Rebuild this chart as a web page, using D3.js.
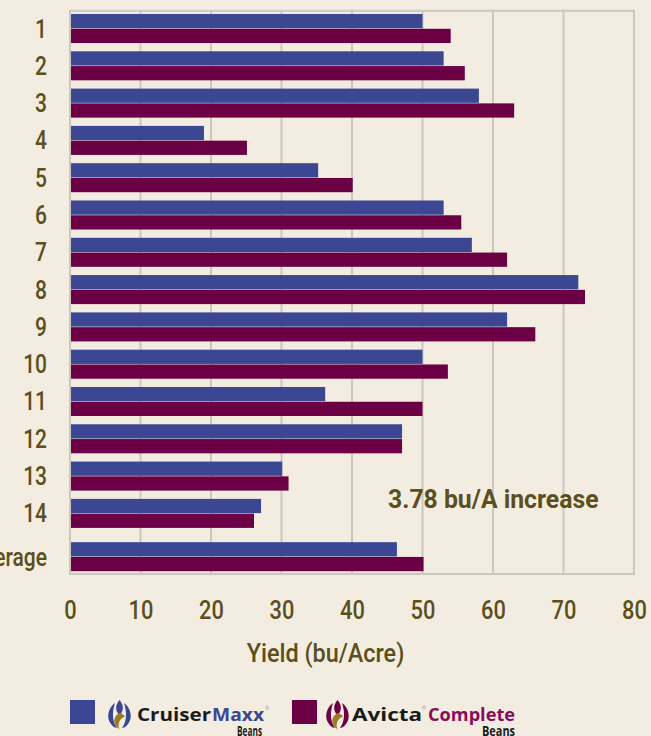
<!DOCTYPE html>
<html>
<head>
<meta charset="utf-8">
<script src="https://cdn.jsdelivr.net/npm/d3@7"></script>
<style>
  html, body { margin: 0; padding: 0; background: #f3ede1; }
  svg { display: block; }
  .lbl { font-family: Roboto, "Liberation Sans", sans-serif; font-weight: 500; fill: #5b4f1c; }
</style>
</head>
<body>
<script>
// Trial locations, plus the average row at the bottom
const categories = ['1', '2', '3', '4', '5', '6', '7', '8', '9', '10', '11', '12', '13', '14', 'Average'];
const cruiserMaxx = [50, 53, 58, 19, 35.2, 53, 57, 72.1, 62, 50, 36.2, 47.1, 30.1, 27.1, 46.37];
const avictaComplete = [54, 56, 63, 25.1, 40.1, 55.5, 62, 73.05, 66, 53.6, 50, 47.1, 31, 26.1, 50.15];
const xTicks = [0, 10, 20, 30, 40, 50, 60, 70, 80];
const seriesNames = ['CruiserMaxx', 'AvictaComplete'];
const increaseLabel = '3.78 bu/A increase';

const W = 651, H = 736;
const plot = { left: 70, right: 634, top: 10.7, bottom: 574 };
const blue = '#3b4792', purple = '#6b0044', grid = '#cac7c1';
const avgGap = 6;
const narrow = 0.84;   // the original type is a condensed face

const svg = d3.select('body').append('svg')
  .attr('width', W)
  .attr('height', H);

// squeeze text horizontally to mimic a condensed font
function condense(sel, f) {
  sel.each(function () {
    const w = this.getComputedTextLength();
    d3.select(this).attr('textLength', w * f).attr('lengthAdjust', 'spacingAndGlyphs');
  });
}

const x = d3.scaleLinear().domain([0, 80]).range([plot.left, plot.right]);

const y = d3.scaleBand()
  .domain(categories)
  .range([plot.top, 568.5])
  .paddingInner(0.222)
  .paddingOuter(0.0885);

const sub = d3.scaleBand()
  .domain(seriesNames)
  .range([0, y.bandwidth()])
  .paddingInner(0.035);

const rowTop = c => y(c) + (c === 'Average' ? avgGap : 0);

// grid lines + frame
svg.append('g')
  .selectAll('line')
  .data(xTicks)
  .join('line')
  .attr('x1', d => x(d)).attr('x2', d => x(d))
  .attr('y1', plot.top).attr('y2', plot.bottom)
  .attr('stroke', grid)
  .attr('stroke-width', 2);

svg.append('line')
  .attr('x1', plot.left - 1).attr('x2', plot.right + 1)
  .attr('y1', plot.top).attr('y2', plot.top)
  .attr('stroke', grid).attr('stroke-width', 2);
svg.append('line')
  .attr('x1', plot.left - 1).attr('x2', plot.right + 1)
  .attr('y1', plot.bottom).attr('y2', plot.bottom)
  .attr('stroke', grid).attr('stroke-width', 2);

// bars
const rows = categories.map((c, i) => ({ c, vals: [cruiserMaxx[i], avictaComplete[i]] }));
const colors = d3.scaleOrdinal().domain(seriesNames).range([blue, purple]);

const g = svg.append('g')
  .selectAll('g')
  .data(rows)
  .join('g')
  .attr('transform', d => `translate(0,${rowTop(d.c)})`);

g.selectAll('rect')
  .data(d => d.vals.map((v, j) => ({ key: seriesNames[j], v })))
  .join('rect')
  .attr('x', x(0) + 1)
  .attr('y', d => sub(d.key))
  .attr('width', d => x(d.v) - x(0) - 1)
  .attr('height', sub.bandwidth())
  .attr('fill', d => colors(d.key));

// category labels
svg.append('g')
  .selectAll('text')
  .data(categories)
  .join('text')
  .attr('class', 'lbl')
  .attr('x', 47)
  .attr('y', d => rowTop(d) + y.bandwidth() / 2 + 9)
  .attr('text-anchor', 'end')
  .style('font-size', '25px')
  .text(d => d)
  .call(condense, narrow);

// x axis labels
const xAxis = d3.axisBottom(x).tickValues(xTicks).tickSize(0).tickPadding(26.5);
const ax = svg.append('g')
  .attr('transform', `translate(0,${plot.bottom})`)
  .call(xAxis);
ax.select('.domain').remove();
ax.attr('font-family', null).attr('font-size', null);
ax.selectAll('text')
  .attr('class', 'lbl')
  .attr('fill', null)
  .style('font-size', '26px')
  .call(condense, narrow);

svg.append('text')
  .attr('class', 'lbl')
  .attr('x', 325.5)
  .attr('y', 662)
  .attr('text-anchor', 'middle')
  .style('font-size', '26px')
  .text('Yield (bu/Acre)')
  .call(condense, 0.9);

svg.append('text')
  .attr('class', 'lbl')
  .attr('x', 388)
  .attr('y', 508)
  .style('font-size', '25px')
  .style('font-weight', 700)
  .text(increaseLabel)
  .call(condense, 0.99);

// legend
const gold = '#9a7a22';
function logo(gx, gy, petal) {
  const lg = svg.append('g').attr('transform', `translate(${gx},${gy})`);
  lg.append('path')
    .attr('d', 'M8,3 C1,8 -1,18 4,24 C6,27 9,28 10,28 C5,21 5,12 8,3 Z')
    .attr('fill', petal);
  lg.append('path')
    .attr('d', 'M17,3 C24,8 26,18 21,24 C19,27 16,28 15,28 C20,21 20,12 17,3 Z')
    .attr('fill', petal);
  lg.append('path')
    .attr('d', 'M12.5,0 C8,5 8,11 12.5,15 C17,11 17,5 12.5,0 Z')
    .attr('fill', petal);
  lg.append('path')
    .attr('d', 'M13,13 C6,16 5,24 12.5,29.5 C10.5,24 12,19 18,16.5 C16.5,14.5 15,13.5 13,13 Z')
    .attr('fill', gold);
  return lg;
}

const brandFont = '"Open Sans", "DejaVu Sans", sans-serif';
function brandText(tx, ty, txt, fill, size, len, weight) {
  return svg.append('text').attr('x', tx).attr('y', ty)
    .style('font-family', brandFont).style('font-weight', weight).style('font-size', size + 'px')
    .attr('textLength', len).attr('lengthAdjust', 'spacingAndGlyphs')
    .attr('fill', fill).text(txt);
}

svg.append('rect').attr('x', 70).attr('y', 700).attr('width', 25).attr('height', 24).attr('fill', blue);
logo(107, 700, blue);
brandText(137, 721, 'Cruiser', '#1a1a1a', 18, 74, 700);
brandText(212, 721, 'Maxx', blue, 18, 52, 700);
brandText(265, 710, '®', '#999', 6, 4, 400);
brandText(237, 736, 'Beans', '#1a1a1a', 14, 25, 700);

svg.append('rect').attr('x', 292).attr('y', 700).attr('width', 25).attr('height', 24).attr('fill', purple);
logo(325, 700, purple);
brandText(352, 721, 'Avicta', '#1a1a1a', 18, 70, 700);
brandText(422, 710, '®', '#999', 6, 4, 400);
brandText(428, 721, 'Complete', '#8a0a5c', 18, 87, 700);
brandText(482, 736, 'Beans', '#1a1a1a', 14, 33, 700);
</script>
</body>
</html>
